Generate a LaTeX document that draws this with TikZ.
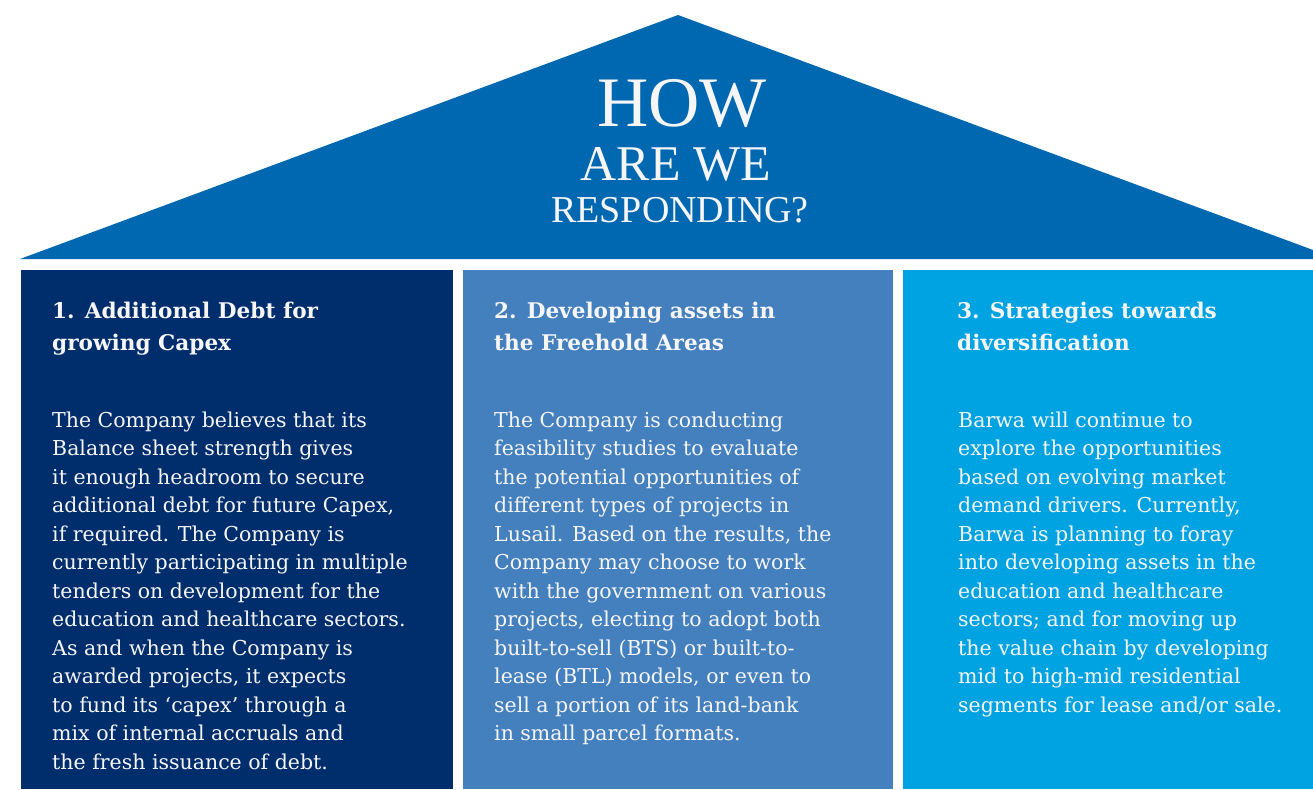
\documentclass[tikz,border=0pt]{standalone}
\usepackage{fontspec}
\setmainfont{DejaVu Serif}
\newfontfamily\titlefont{Liberation Serif}
\definecolor{roofblue}{RGB}{0,104,176}
\definecolor{navybox}{RGB}{0,45,107}
\definecolor{midbox}{RGB}{68,128,189}
\definecolor{skybox}{RGB}{0,163,225}
\definecolor{offwhite}{RGB}{246,246,248}
\begin{document}
\begin{tikzpicture}[x=1pt,y=-1pt,
  title/.style={anchor=base, inner sep=0, text=offwhite},
  headtxt/.style={anchor=base west, inner sep=0, text=offwhite,
    font=\fontsize{21.6}{32}\selectfont\bfseries},
  bodytxt/.style={anchor=base west, inner sep=0, text=offwhite,
    font=\fontsize{20.5}{28.5}\selectfont}]
\useasboundingbox (0,0) rectangle (1313,789);
% roof
\fill[roofblue] (20,259) -- (678,15) -- (1313,250) -- (1313,259) -- cycle;
% boxes
\fill[navybox] (21,270) rectangle (453,789);
\fill[midbox] (463,270) rectangle (893,789);
\fill[skybox] (903,270) rectangle (1313,789);
% title
\node[title, font=\titlefont\fontsize{71}{71}\selectfont] (t1) at (682,127) {HOW};
\node[title, font=\titlefont\fontsize{50}{50}\selectfont] (t2) at (676,180) {ARE WE};
\node[title, font=\titlefont\fontsize{38}{38}\selectfont] (t3) at (680,222) {RESPONDING?};
% headings
\node[headtxt] (h1) at (52,318) {\parbox[t]{400pt}{\raggedright 1. Additional Debt for\\growing Capex}};
\node[headtxt] (h2) at (494,318) {\parbox[t]{400pt}{\raggedright 2. Developing assets in\\the Freehold Areas}};
\node[headtxt] (h3) at (957,318) {\parbox[t]{400pt}{\raggedright 3. Strategies towards\\diversification}};
% body texts
\node[bodytxt] (p1) at (52,427) {\parbox[t]{420pt}{\raggedright
The Company believes that its\\
Balance sheet strength gives\\
it enough headroom to secure\\
additional debt for future Capex,\\
if required. The Company is\\
currently participating in multiple\\
tenders on development for the\\
education and healthcare sectors.\\
As and when the Company is\\
awarded projects, it expects\\
to fund its ‘capex’ through a\\
mix of internal accruals and\\
the fresh issuance of debt.}};
\node[bodytxt] (p2) at (494,427) {\parbox[t]{420pt}{\raggedright
The Company is conducting\\
feasibility studies to evaluate\\
the potential opportunities of\\
different types of projects in\\
Lusail. Based on the results, the\\
Company may choose to work\\
with the government on various\\
projects, electing to adopt both\\
built-to-sell (BTS) or built-to-\\
lease (BTL) models, or even to\\
sell a portion of its land-bank\\
in small parcel formats.}};
\node[bodytxt] (p3) at (958,427) {\parbox[t]{420pt}{\raggedright
Barwa will continue to\\
explore the opportunities\\
based on evolving market\\
demand drivers. Currently,\\
Barwa is planning to foray\\
into developing assets in the\\
education and healthcare\\
sectors; and for moving up\\
the value chain by developing\\
mid to high-mid residential\\
segments for lease and/or sale.}};
\end{tikzpicture}
\end{document}
